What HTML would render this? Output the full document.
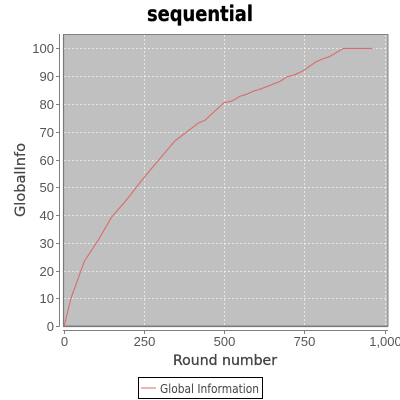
<!DOCTYPE html>
<html>
<head>
<meta charset="utf-8">
<style>
html,body{margin:0;padding:0;background:#fff;width:400px;height:400px;overflow:hidden}
svg{display:block}
text{font-family:"DejaVu Sans","Liberation Sans",sans-serif}
</style>
</head>
<body>
<svg id="chart" width="400" height="400" viewBox="0 0 400 400" xmlns="http://www.w3.org/2000/svg">
<rect x="0" y="0" width="400" height="400" fill="#ffffff"/>
<text x="200" y="21" text-anchor="middle" font-size="21" font-weight="bold" fill="#000" stroke="#000" stroke-width="0.3" textLength="106" lengthAdjust="spacingAndGlyphs">sequential</text>
<rect x="63.5" y="34.5" width="324.5" height="291.5" fill="#c0c0c0"/>
<g id="grid"></g>
<path d="M63.5 326 V34.5 H388 V326 H63.5" fill="none" stroke="#808080" stroke-width="1"/>
<line x1="63.5" y1="34" x2="63.5" y2="326.5" stroke="#7a7a7a" stroke-width="1.2"/>
<line x1="63" y1="326.5" x2="388" y2="326.5" stroke="#7a7a7a" stroke-width="1.2"/>
<line x1="59.5" y1="34" x2="59.5" y2="326.5" stroke="#808080" stroke-width="1"/>
<line x1="63" y1="330.5" x2="388" y2="330.5" stroke="#808080" stroke-width="1"/>
<g id="ticks"></g>
<polyline id="series" fill="none" stroke="#d96c6c" stroke-width="1.1"/>
<text x="225" y="365" text-anchor="middle" font-size="14" fill="#444" stroke="#444" stroke-width="0.3" textLength="104" lengthAdjust="spacingAndGlyphs">Round number</text>
<text transform="translate(25 180) rotate(-90)" text-anchor="middle" font-size="14" fill="#444" stroke="#444" stroke-width="0.2" textLength="74" lengthAdjust="spacingAndGlyphs">GlobalInfo</text>
<g>
<rect x="138.5" y="377.5" width="124" height="21" fill="#fff" stroke="#000" stroke-width="1"/>
<line x1="141" y1="388" x2="156" y2="388" stroke="#d96c6c" stroke-width="1"/>
<text x="160" y="393" font-size="12" fill="#444" textLength="99" lengthAdjust="spacingAndGlyphs">Global Information</text>
</g>
</svg>
<script>
var xTicks = [0, 250, 500, 750, 1000];
var xTickLabels = ["0", "250", "500", "750", "1,000"];
var yTicks = [0, 10, 20, 30, 40, 50, 60, 70, 80, 90, 100];
var yTickLabels = ["0", "10", "20", "30", "40", "50", "60", "70", "80", "90", "100"];
var rounds = [2, 23, 65, 108, 150, 195, 252, 347, 420, 441, 500, 524, 548, 571, 591, 612, 674, 697, 721, 747, 787, 807, 828, 872, 963];
var globalInfo = [0, 10, 23.4, 31, 39.3, 45.3, 53.7, 66.7, 73.1, 74.2, 80.5, 81, 82.7, 83.5, 84.6, 85.3, 88.1, 89.8, 90.5, 92, 95.2, 96.2, 97, 100, 100];

var NS = "http://www.w3.org/2000/svg";
function xScale(v) { return 63.5 + v * 0.321; }
function yScale(v) { return 326.2 - v * 2.778; }

function make(tag, attrs, parent) {
  var el = document.createElementNS(NS, tag);
  for (var k in attrs) { el.setAttribute(k, attrs[k]); }
  parent.appendChild(el);
  return el;
}

var grid = document.getElementById("grid");
var ticks = document.getElementById("ticks");

xTicks.forEach(function (v, i) {
  var x = Math.round(xScale(v)) + 0.5;
  if (v > 0) {
    var g = make("line", { x1: x, y1: 35, x2: x, y2: 326, stroke: "#ffffff", "stroke-opacity": "0.6", "stroke-dasharray": "2 2" }, grid);
    
    
  }
  var t = make("line", { x1: x, y1: 330.5, x2: x, y2: 334, stroke: "#808080" }, ticks);
  
  
  var l = make("text", { x: x, y: 346, "text-anchor": "middle", "font-size": "13", fill: "#555", style: "font-family:'Liberation Sans',sans-serif" }, ticks);
  
  
  l.textContent = xTickLabels[i];
});

yTicks.forEach(function (v, i) {
  var y = Math.round(yScale(v)) + 0.5;
  if (v > 0) {
    var g = make("line", { x1: 64, y1: y, x2: 388, y2: y, stroke: "#ffffff", "stroke-opacity": "0.6", "stroke-dasharray": "2 2" }, grid);
    
    
  }
  var t = make("line", { x1: 56, y1: y, x2: 59.5, y2: y, stroke: "#808080" }, ticks);
  
  
  var l = make("text", { x: 54, y: y + 4.5, "text-anchor": "end", "font-size": "13", fill: "#555", style: "font-family:'Liberation Sans',sans-serif" }, ticks);
  
  
  l.textContent = yTickLabels[i];
});

document.getElementById("series").setAttribute("points", rounds.map(function (r, i) {
  return xScale(r).toFixed(1) + "," + yScale(globalInfo[i]).toFixed(1);
}).join(" "));
</script>
</body>
</html>
